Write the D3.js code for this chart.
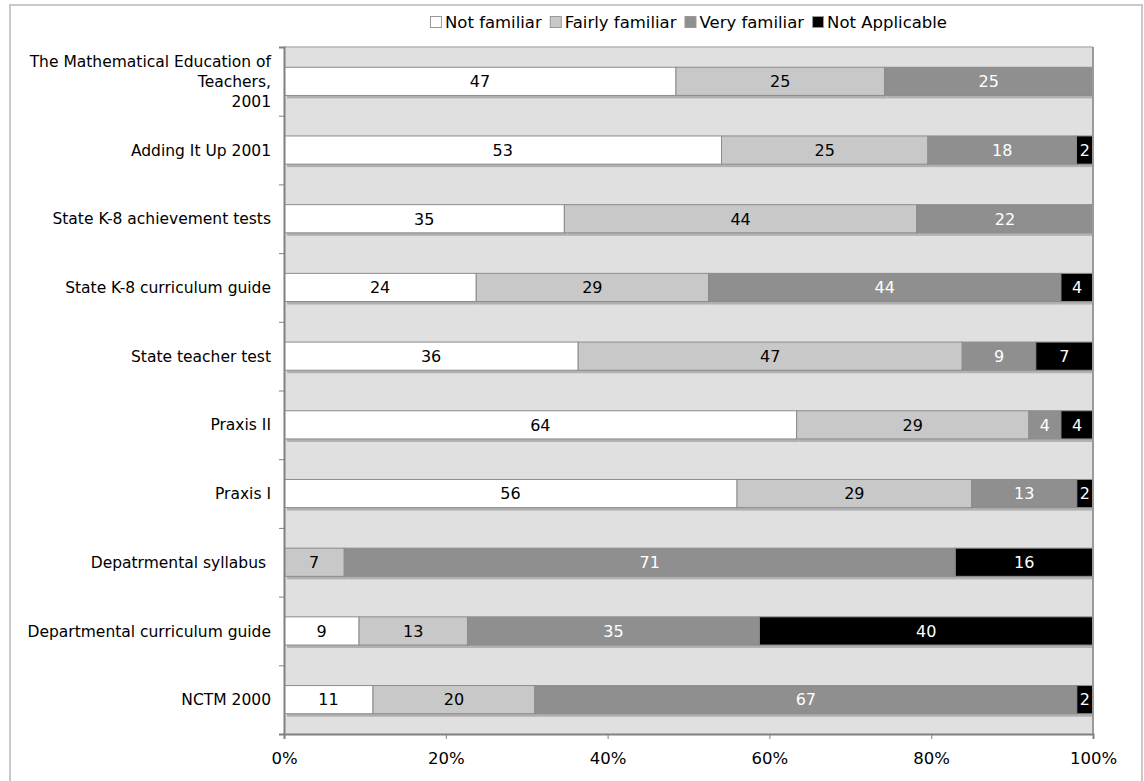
<!DOCTYPE html>
<html>
<head>
<meta charset="utf-8">
<script src="https://cdn.jsdelivr.net/npm/d3@7"></script>
<style>
  html, body { margin: 0; padding: 0; background: #fff; }
  svg { display: block; font-family: "DejaVu Sans", Verdana, sans-serif; }
  text { white-space: pre; }
</style>
</head>
<body>
<svg id="chart" width="1144" height="781"></svg>
<script>
// Survey rows, top to bottom ("\n" marks a line break in the label)
const categories = [
  "The Mathematical Education of\nTeachers,\n2001",
  "Adding It Up 2001",
  "State K-8 achievement tests",
  "State K-8 curriculum guide",
  "State teacher test",
  "Praxis II",
  "Praxis I",
  "Depatrmental syllabus ",
  "Departmental curriculum guide",
  "NCTM 2000"
];
const seriesNames = ["Not familiar", "Fairly familiar", "Very familiar", "Not Applicable"];
const notFamiliar    = [47, 53, 35, 24, 36, 64, 56, 0, 9, 11];
const fairlyFamiliar = [25, 25, 44, 29, 47, 29, 29, 7, 13, 20];
const veryFamiliar   = [25, 18, 22, 44, 9, 4, 13, 71, 35, 67];
const notApplicable  = [0, 2, 0, 4, 7, 4, 2, 16, 40, 2];
const xTicks = [0, 0.2, 0.4, 0.6, 0.8, 1];

const fills = ["#ffffff", "#c8c8c8", "#8f8f8f", "#000000"];
const labelColors = ["#000", "#000", "#fff", "#fff"];

const svg = d3.select("#chart");
const plotLeft = 284, plotRight = 1093, plotTop = 47, plotBottom = 734;

// outer frame
svg.append("rect")
  .attr("x", 10).attr("y", 5).attr("width", 1132).attr("height", 800)
  .attr("fill", "none").attr("stroke", "#c8c8c8").attr("stroke-width", 2);

const rows = categories.map((c, i) => {
  const vals = [notFamiliar[i], fairlyFamiliar[i], veryFamiliar[i], notApplicable[i]];
  const total = d3.sum(vals);
  let acc = 0;
  const segs = vals.map((v, k) => {
    const s = { cat: c, k, v, x0: acc / total, x1: (acc + v) / total };
    acc += v;
    return s;
  });
  return { cat: c, segs };
});

const x = d3.scaleLinear().domain([0, 1]).range([plotLeft, plotRight]);
const y = d3.scaleBand().domain(categories).range([plotTop, plotBottom])
  .paddingInner(0.59).paddingOuter(0.295);
const yIdx = d3.scaleLinear().domain([0, categories.length]).range([plotTop, plotBottom]);

// plot background
svg.append("rect")
  .attr("x", plotLeft).attr("y", plotTop)
  .attr("width", plotRight - plotLeft).attr("height", plotBottom - plotTop)
  .attr("fill", "#e0e0e0");

svg.append("defs").append("clipPath").attr("id", "plotClip")
  .append("rect").attr("x", plotLeft).attr("y", plotTop)
  .attr("width", plotRight - plotLeft).attr("height", plotBottom - plotTop);

const plot = svg.append("g").attr("clip-path", "url(#plotClip)");

const allSegs = rows.flatMap(r => r.segs).filter(s => s.v > 0);

// drop shadows under the bars
plot.selectAll("rect.shadow").data(allSegs).join("rect")
  .attr("class", "shadow")
  .attr("x", d => x(d.x0) + 3)
  .attr("y", d => y(d.cat) + 3)
  .attr("width", d => x(d.x1) - x(d.x0))
  .attr("height", y.bandwidth())
  .attr("fill", "#b0b0b0");

// bar segments
plot.selectAll("rect.seg").data(allSegs).join("rect")
  .attr("class", "seg")
  .attr("x", d => x(d.x0))
  .attr("y", d => y(d.cat))
  .attr("width", d => x(d.x1) - x(d.x0))
  .attr("height", y.bandwidth())
  .attr("fill", d => fills[d.k])
  .attr("stroke", "#8c8c8c")
  .attr("stroke-width", 1);

// value labels
svg.selectAll("text.val").data(allSegs).join("text")
  .attr("class", "val")
  .attr("x", d => (x(d.x0) + x(d.x1)) / 2)
  .attr("y", d => y(d.cat) + y.bandwidth() / 2)
  .attr("dy", "0.36em")
  .attr("text-anchor", "middle")
  .attr("font-size", 16)
  .attr("fill", d => labelColors[d.k])
  .text(d => d.v);

// plot border (top light, right darker)
svg.append("line").attr("x1", plotLeft).attr("x2", plotRight).attr("y1", plotTop).attr("y2", plotTop)
  .attr("stroke", "#b4b4b4").attr("stroke-width", 1.5);
svg.append("line").attr("x1", plotRight).attr("x2", plotRight).attr("y1", plotTop).attr("y2", plotBottom)
  .attr("stroke", "#9a9a9a").attr("stroke-width", 2);

// left axis: ticks at row boundaries
const yAxis = svg.append("g").attr("transform", `translate(${plotLeft},0)`)
  .call(d3.axisLeft(yIdx).tickValues(d3.range(categories.length + 1)).tickSize(5).tickFormat(""));
yAxis.select(".domain").attr("stroke", "#808080").attr("stroke-width", 2);
yAxis.selectAll(".tick line").attr("stroke", "#808080");

// category labels
const catG = svg.append("g");
categories.forEach(c => {
  const lines = c.split("\n");
  const cy = y(c) + y.bandwidth() / 2;
  const lh = 20;
  const t = catG.append("text")
    .attr("text-anchor", "end")
    .attr("font-size", 15.5)
    .attr("fill", "#000");
  lines.forEach((ln, j) => {
    t.append("tspan")
      .attr("x", 271)
      .attr("y", cy + (j - (lines.length - 1) / 2) * lh)
      .attr("dy", "0.36em")
      .text(ln);
  });
});

// bottom axis
const xAxis = svg.append("g").attr("transform", `translate(0,${plotBottom})`)
  .call(d3.axisBottom(x).tickValues(xTicks).tickSize(5).tickPadding(13).tickFormat(d3.format(".0%")));
xAxis.select(".domain").attr("stroke", "#808080").attr("stroke-width", 2);
xAxis.selectAll(".tick line").attr("stroke", "#808080");
xAxis.selectAll(".tick text").attr("font-size", 16.5).attr("fill", "#000")
  .attr("font-family", "DejaVu Sans, Verdana, sans-serif");

// legend, centred over the plot
const legend = svg.append("g");
let lx = 0;
seriesNames.forEach((name, k) => {
  const g = legend.append("g");
  g.append("rect").attr("x", lx + 0.5).attr("y", 16.5).attr("width", 11).attr("height", 11)
    .attr("fill", fills[k]).attr("stroke", "#999").attr("stroke-width", 1);
  const t = g.append("text").attr("x", lx + 15).attr("y", 22).attr("dy", "0.36em")
    .attr("font-size", 16.5).attr("fill", "#000").text(name);
  lx += 15 + t.node().getComputedTextLength() + 8;
});
const legendW = lx - 8;
legend.attr("transform", `translate(${(plotLeft + plotRight) / 2 - legendW / 2},0)`);
</script>
</body>
</html>
